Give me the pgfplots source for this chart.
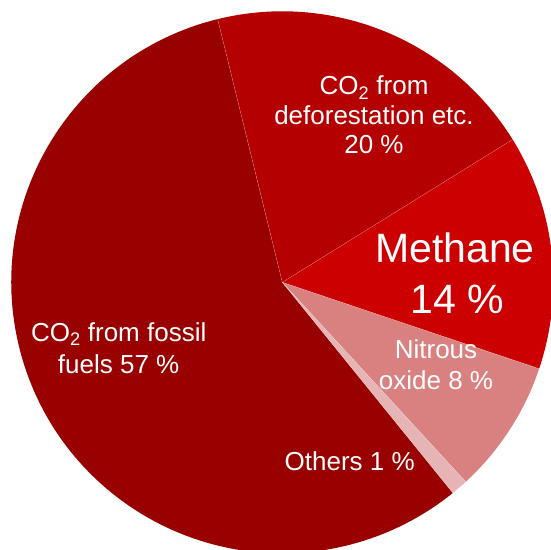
\documentclass[border=0pt]{standalone}
\usepackage{pgfplots}
\usepackage{pgfplotstable}
\pgfplotsset{compat=1.18}
\usepackage{fontspec}
\setmainfont{Liberation Sans}
\definecolor{cFossil}{RGB}{153,0,0}
\definecolor{cDefor}{RGB}{180,0,0}
\definecolor{cMeth}{RGB}{204,0,0}
\definecolor{cNitro}{RGB}{217,128,128}
\definecolor{cOther}{RGB}{230,180,180}
\pgfplotstableread{
label value
fossil 57
defor 20
methane 14
nitrous 8
others 1
}\piedata
\begin{document}
\begin{tikzpicture}
\path[use as bounding box] (0,0) rectangle (550pt,550pt);
\pgfplotstablegetelem{0}{value}\of\piedata \pgfmathsetmacro\vA{\pgfplotsretval}
\pgfplotstablegetelem{1}{value}\of\piedata \pgfmathsetmacro\vB{\pgfplotsretval}
\pgfplotstablegetelem{2}{value}\of\piedata \pgfmathsetmacro\vC{\pgfplotsretval}
\pgfplotstablegetelem{3}{value}\of\piedata \pgfmathsetmacro\vD{\pgfplotsretval}
\pgfplotstablegetelem{4}{value}\of\piedata \pgfmathsetmacro\vE{\pgfplotsretval}
\pgfmathsetmacro\aS{103.8}
\pgfmathsetmacro\aF{\aS+3.6*\vA}
\pgfmathsetmacro\aB{\aS-3.6*\vB}
\pgfmathsetmacro\aC{\aB-3.6*\vC}
\pgfmathsetmacro\aD{\aC-3.6*\vD}
\pgfmathsetmacro\aE{\aD-3.6*\vE}
\def\pieR{271pt}
\begin{axis}[at={(0,0)}, anchor=south west, scale only axis,
  width=550pt, height=550pt, xmin=0, xmax=550, ymin=0, ymax=550,
  hide axis, clip=false]
\coordinate (O) at (axis cs:282.3,267.7);
\fill[cFossil] (O) -- ++(\aS:\pieR) arc[start angle=\aS, end angle=\aF, radius=\pieR] -- cycle;
\fill[cDefor] (O) -- ++(\aS:\pieR) arc[start angle=\aS, end angle=\aB, radius=\pieR] -- cycle;
\fill[cMeth] (O) -- ++(\aB:\pieR) arc[start angle=\aB, end angle=\aC, radius=\pieR] -- cycle;
\fill[cNitro] (O) -- ++(\aC:\pieR) arc[start angle=\aC, end angle=\aD, radius=\pieR] -- cycle;
\fill[cOther] (O) -- ++(\aD:\pieR) arc[start angle=\aD, end angle=\aE, radius=\pieR] -- cycle;
\draw[white, opacity=0.3, line width=0.5pt] (O) -- ++(\aS:\pieR);
\draw[white, opacity=0.3, line width=0.5pt] (O) -- ++(\aB:\pieR);
\draw[white, opacity=0.3, line width=0.5pt] (O) -- ++(\aC:\pieR);
\draw[white, opacity=0.3, line width=0.5pt] (O) -- ++(\aD:\pieR);
\draw[white, opacity=0.3, line width=0.5pt] (O) -- ++(\aE:\pieR);
\node[text=white, inner sep=0pt, anchor=base, font=\fontsize{26}{30}\selectfont] at (axis cs:374,455) {CO\textsubscript{2} from};
\node[text=white, inner sep=0pt, anchor=base, font=\fontsize{26}{30}\selectfont] at (axis cs:374,425.7) {deforestation etc.};
\node[text=white, inner sep=0pt, anchor=base, font=\fontsize{26}{30}\selectfont] at (axis cs:374,396) {20 \%};
\node[text=white, inner sep=0pt, anchor=base, font=\fontsize{26}{30}\selectfont] at (axis cs:118.7,208.3) {CO\textsubscript{2} from fossil};
\node[text=white, inner sep=0pt, anchor=base, font=\fontsize{26}{30}\selectfont] at (axis cs:118.7,176.7) {fuels 57 \%};
\node[text=white, inner sep=0pt, anchor=base, font=\fontsize{41}{48}\selectfont] at (axis cs:455,287) {Methane};
\node[text=white, inner sep=0pt, anchor=base, font=\fontsize{41}{48}\selectfont] at (axis cs:457.5,236.7) {14 \%};
\node[text=white, inner sep=0pt, anchor=base, font=\fontsize{26}{30}\selectfont] at (axis cs:436,191) {Nitrous};
\node[text=white, inner sep=0pt, anchor=base, font=\fontsize{26}{30}\selectfont] at (axis cs:436,160.7) {oxide 8 \%};
\node[text=white, inner sep=0pt, anchor=base, font=\fontsize{26}{30}\selectfont] at (axis cs:349.7,79.3) {Others 1 \%};
\end{axis}
\end{tikzpicture}
\end{document}
